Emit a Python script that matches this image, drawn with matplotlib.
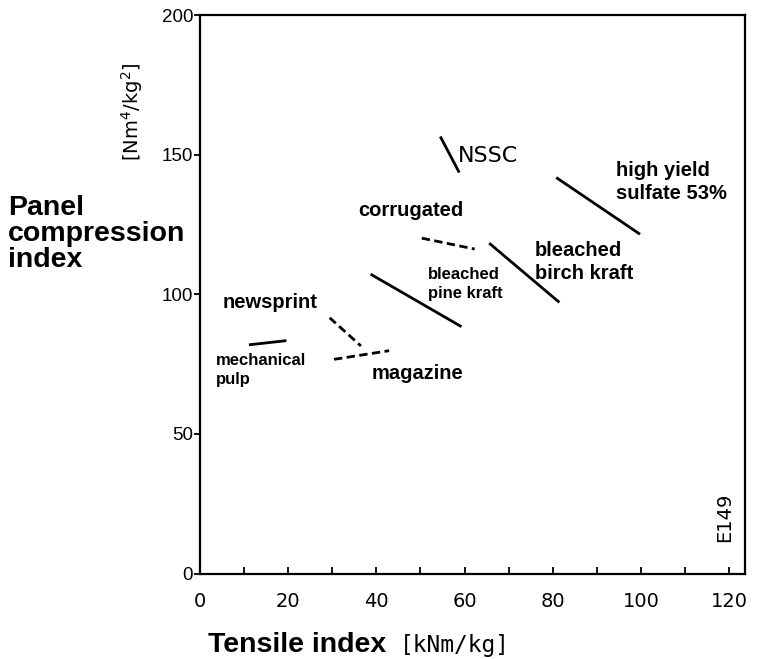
import matplotlib
matplotlib.use("Agg")
import matplotlib.pyplot as plt

# line segments: tensile index (x) vs panel compression index (y)
pulps = ["mechanical pulp", "newsprint", "magazine", "bleached pine kraft",
         "corrugated", "bleached birch kraft", "NSSC", "high yield sulfate 53%"]
x_start = [11.1, 29.4, 30.4, 38.7, 50.3, 65.6, 54.5, 80.8]
x_end = [19.6, 36.5, 42.9, 59.3, 62.3, 81.5, 58.8, 99.8]
y_start = [81.9, 91.6, 76.7, 107.2, 120.1, 118.3, 156.5, 141.8]
y_end = [83.4, 81.5, 79.8, 88.4, 116.2, 97.1, 143.6, 121.5]
dashed = [False, True, True, False, True, False, False, False]

x_ticks = [0, 20, 40, 60, 80, 100, 120]
y_ticks = [0, 50, 100, 150, 200]

fig = plt.figure(figsize=(7.61, 6.59), dpi=100)
ax = fig.add_axes([0.2628, 0.1297, 0.7161, 0.8475])

for i in range(len(pulps)):
    ls = (0, (3, 1.6)) if dashed[i] else "-"
    ax.plot([x_start[i], x_end[i]], [y_start[i], y_end[i]], color="black",
            lw=2.0, ls=ls, solid_capstyle="butt")

ax.set_xlim(0, 123.6)
ax.set_ylim(0, 200)
ax.set_xticks(x_ticks)
ax.set_xticks(range(10, 120, 10), minor=True)
ax.set_yticks(y_ticks)
ax.tick_params(axis="x", direction="in", length=5, width=1.3, pad=13,
               labelsize=14, which="both")
ax.tick_params(axis="y", direction="out", length=4, width=1.3, pad=1,
               labelsize=13.5)
for lab in ax.get_yticklabels():
    lab.set_family("Liberation Sans")
for sp in ax.spines.values():
    sp.set_linewidth(1.6)

bold = dict(family="Liberation Sans", weight="bold", color="black")
ax.text(58.6, 147.2, "NSSC", fontsize=16, family="DejaVu Sans", va="baseline")
ax.text(94.3, 142.2, "high yield", fontsize=14.5, va="baseline", **bold)
ax.text(94.3, 134.1, "sulfate 53%", fontsize=14.5, va="baseline", **bold)
ax.text(35.9, 128.0, "corrugated", fontsize=14.5, va="baseline", **bold)
ax.text(76.0, 113.7, "bleached", fontsize=14.5, va="baseline", **bold)
ax.text(76.0, 105.4, "birch kraft", fontsize=14.5, va="baseline", **bold)
ax.text(51.7, 105.4, "bleached", fontsize=12, va="baseline", **bold)
ax.text(51.7, 98.8, "pine kraft", fontsize=12, va="baseline", **bold)
ax.text(5.1, 95.2, "newsprint", fontsize=14.5, va="baseline", **bold)
ax.text(3.6, 74.7, "mechanical", fontsize=12, va="baseline", **bold)
ax.text(3.6, 67.9, "pulp", fontsize=12, va="baseline", **bold)
ax.text(38.9, 69.6, "magazine", fontsize=14.5, va="baseline", **bold)

ax.text(0.962, 0.1, "E149", transform=ax.transAxes, rotation=90,
        fontsize=14, ha="center", va="center")

# axis titles
fig.text(0.011, 0.645, "Panel\ncompression\nindex", fontsize=20.5,
         linespacing=1.0, va="center", ha="left", **bold)
fig.text(0.174, 0.830, r"[Nm$^4$/kg$^2$]", rotation=90, fontsize=14,
         ha="center", va="center", family="DejaVu Sans")
fig.text(0.2733, 0.011, "Tensile index", fontsize=20.5, va="baseline", **bold)
fig.text(0.526, 0.011, "[kNm/kg]", fontsize=16.5, va="baseline",
         family="DejaVu Sans Mono")

fig.savefig("out.png", dpi=100)
